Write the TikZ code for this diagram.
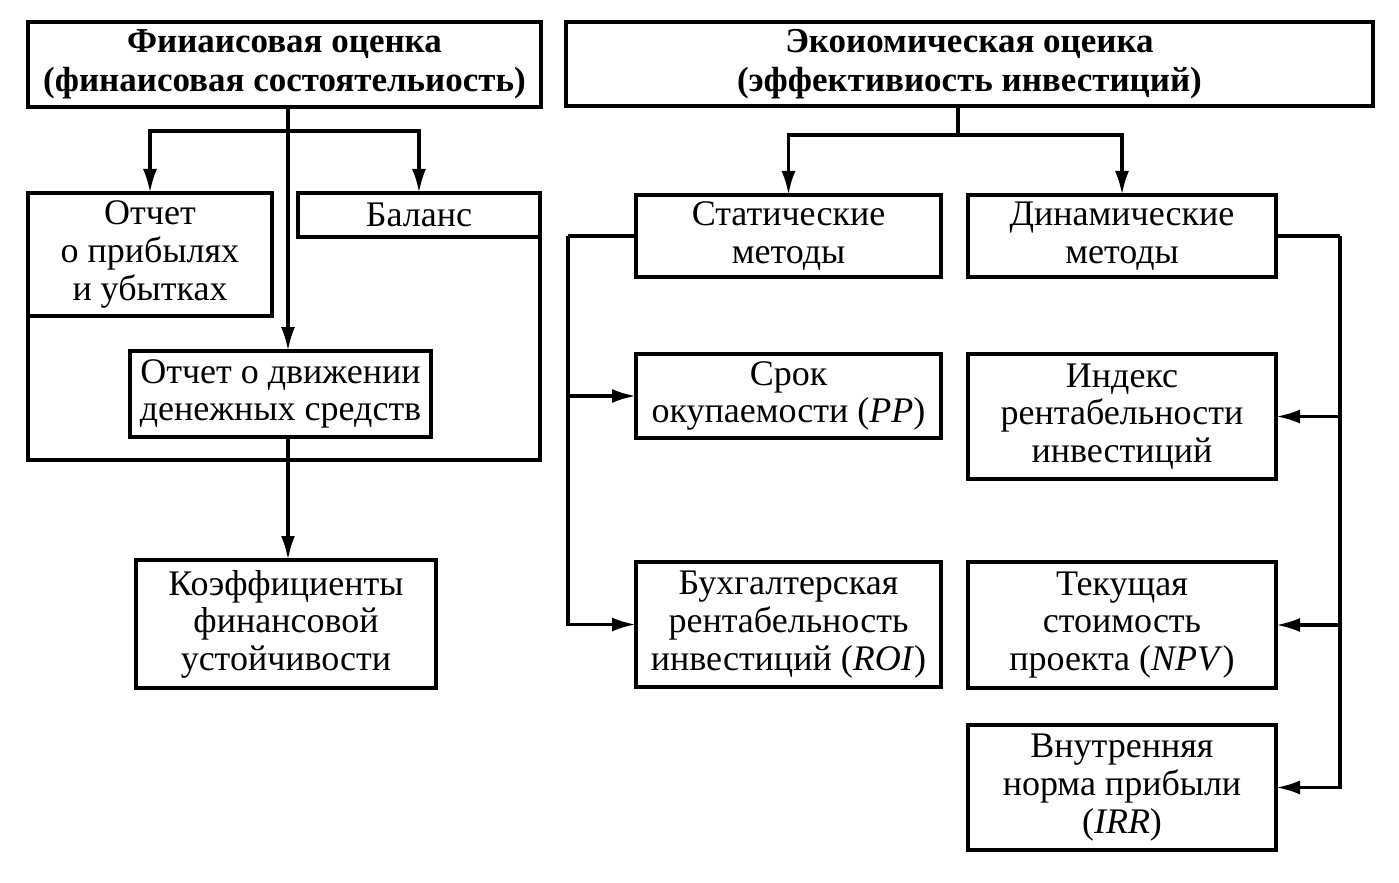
\documentclass[tikz,border=0pt]{standalone}
\usepackage{fontspec}
\setmainfont{Liberation Serif}
\usetikzlibrary{arrows.meta}

\tikzset{
	box/.style={draw, line width=1.7pt, inner sep=0pt, outer sep=0pt, align=center,
		font=\fontsize{18}{18.8}\selectfont},
	headbox/.style={box, font=\fontsize{17.5}{19.5}\selectfont\bfseries},
	link/.style={line width=1.7pt},
	>={Latex[length=12pt,width=7pt]}
}

\begin{document}
\begin{tikzpicture}[x=0.5pt, y=-0.5pt]
	\useasboundingbox (0,0) rectangle (1399,883);
	% left part: financial assessment
	\node[headbox, minimum width=256.5pt, minimum height=42.5pt] (fin) at (284.5,64.5)
		{Фииаисовая оценка\\(финаисовая состоятельиость)};
	\node[box, minimum width=122pt, minimum height=61.5pt] (pl) at (150,254.5)
		{Отчет\\о прибылях\\и убытках};
	\node[box, minimum width=121pt, minimum height=22pt] (bal) at (419,215) {Баланс};
	\node[box, minimum width=150.5pt, minimum height=43pt] (cf) at (280.5,394)
		{Отчет о движении\\денежных средств};
	\node[box, minimum width=150pt, minimum height=64pt] (kfu) at (286,624)
		{Коэффициенты\\финансовой\\устойчивости};
	\coordinate (trunk) at (288,131);
	\coordinate (fbase) at (288,460);
	\draw[link] (fin.south -| trunk) -- (trunk);
	\draw[link, ->] (trunk) -- (cf.north -| trunk);
	\draw[link, ->] (trunk) -| (pl.north);
	\draw[link, ->] (trunk) -| (bal.north);
	\draw[link] (pl.south west) |- (fbase) -| (bal.south east);
	\draw[link, ->] (cf.south -| trunk) -- (kfu.north -| trunk);
	% right part: economic assessment
	\node[headbox, minimum width=403.5pt, minimum height=42pt] (eco) at (969.5,64)
		{Экоиомическая оцеика\\(эффективиость инвестиций)};
	\node[box, minimum width=152.5pt, minimum height=41pt] (stat) at (788.5,236)
		{Статические\\методы};
	\node[box, minimum width=154pt, minimum height=41pt] (dyn) at (1122,236)
		{Динамические\\методы};
	\node[box, minimum width=152.5pt, minimum height=42pt] (pp) at (788.5,396)
		{Срок\\окупаемости (\textit{PP})};
	\node[box, minimum width=152.5pt, minimum height=62.5pt] (roi) at (788.5,624.5)
		{Бухгалтерская\\рентабельность\\инвестиций (\textit{ROI})};
	\node[box, minimum width=154pt, minimum height=62.5pt] (pi) at (1122,416.5)
		{Индекс\\рентабельности\\инвестиций};
	\node[box, minimum width=154pt, minimum height=63pt] (npv) at (1122,625)
		{Текущая\\стоимость\\проекта (\textit{NPV})};
	\node[box, minimum width=154pt, minimum height=62.5pt] (irr) at (1122,787.5)
		{Внутренняя\\норма прибыли\\(\textit{IRR})};
	\coordinate (esplit) at (958,135);
	\coordinate (lbus) at (568,236);
	\coordinate (rbus) at (1340,236);
	\draw[link] (eco.south -| esplit) -- (esplit);
	\draw[link, ->] (esplit) -| (stat.north);
	\draw[link, ->] (esplit) -| (dyn.north);
	\draw[link] (stat.west) -- (lbus);
	\draw[link, ->] (lbus) |- (pp.west);
	\draw[link, ->] (lbus) |- (roi.west);
	\draw[link] (dyn.east) -- (rbus);
	\draw[link, ->] (rbus) |- (pi.east);
	\draw[link, ->] (rbus) |- (npv.east);
	\draw[link, ->] (rbus) |- (irr.east);
\end{tikzpicture}
\end{document}
